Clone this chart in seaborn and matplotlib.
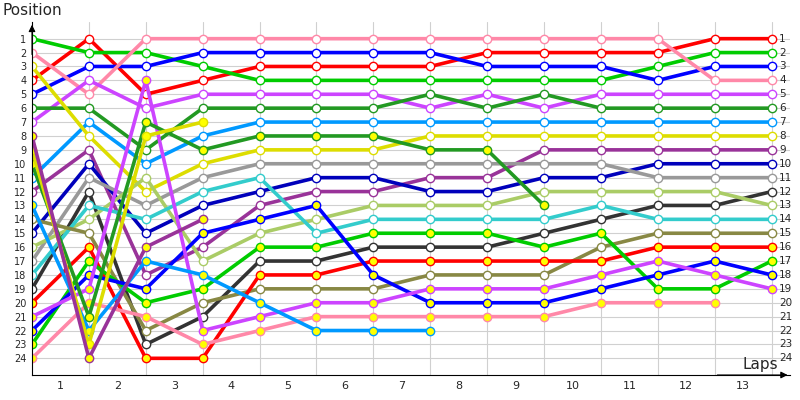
import pandas as pd
import seaborn as sns
import matplotlib
matplotlib.use("Agg")
import matplotlib.pyplot as plt

# --- Data: position per lap (index 0 = start), shorter lists = retired ---
drivers = ["A", "B", "C", "D", "E", "F", "G", "H", "I", "J", "K", "L",
           "M", "N", "O", "P", "Q", "R", "S", "T", "U", "V", "W", "X"]
positions = [
    [4, 1, 5, 4, 3, 3, 3, 3, 2, 2, 2, 2, 1, 1],
    [1, 2, 2, 3, 4, 4, 4, 4, 4, 4, 4, 3, 2, 2],
    [5, 3, 3, 2, 2, 2, 2, 2, 3, 3, 3, 4, 3, 3],
    [2, 5, 1, 1, 1, 1, 1, 1, 1, 1, 1, 1, 4, 4],
    [7, 4, 6, 5, 5, 5, 5, 6, 5, 6, 5, 5, 5, 5],
    [6, 6, 9, 6, 6, 6, 6, 5, 6, 5, 6, 6, 6, 6],
    [11, 7, 10, 8, 7, 7, 7, 7, 7, 7, 7, 7, 7, 7],
    [3, 8, 12, 10, 9, 9, 9, 8, 8, 8, 8, 8, 8, 8],
    [12, 9, 18, 16, 13, 12, 12, 11, 11, 9, 9, 9, 9, 9],
    [15, 10, 15, 13, 12, 11, 11, 12, 12, 11, 11, 10, 10, 10],
    [17, 11, 13, 11, 10, 10, 10, 10, 10, 10, 10, 11, 11, 11],
    [19, 12, 23, 21, 17, 17, 16, 16, 16, 15, 14, 13, 13, 12],
    [16, 14, 11, 17, 15, 14, 13, 13, 13, 12, 12, 12, 12, 13],
    [18, 13, 14, 12, 11, 15, 14, 14, 14, 14, 13, 14, 14, 14],
    [14, 15, 22, 20, 19, 19, 19, 18, 18, 18, 16, 15, 15, 15],
    [20, 16, 24, 24, 18, 18, 17, 17, 17, 17, 17, 16, 16, 16],
    [23, 17, 20, 19, 16, 16, 15, 15, 15, 16, 15, 19, 19, 17],
    [22, 18, 19, 15, 14, 13, 18, 20, 20, 20, 19, 18, 17, 18],
    [21, 19, 4, 22, 21, 20, 20, 19, 19, 19, 18, 17, 18, 19],
    [24, 20, 21, 23, 22, 21, 21, 21, 21, 21, 20, 20, 20],
    [13, 22, 17, 18, 20, 22, 22, 22],
    [10, 21, 7, 9, 8, 8, 8, 9, 9, 13],
    [9, 23, 8, 7],
    [8, 24, 16, 14],
]
line_colors = ["#ff0000", "#00cc00", "#0000ff", "#ff88a8", "#cc44ff", "#229922",
               "#0099ff", "#dddd00", "#993399", "#0000bb", "#999999", "#333333",
               "#aacc66", "#33cccc", "#888844", "#ff0000", "#00cc00", "#0000ff",
               "#cc44ff", "#ff88a8", "#0099ff", "#229922", "#dddd00", "#993399"]
yellow_markers = ["P", "Q", "R", "S", "T", "U", "V", "W", "X"]
lap_labels = [str(i) for i in range(1, 14)]

rows = []
for d, pos in zip(drivers, positions):
    for lap, p in enumerate(pos):
        rows.append([d, lap, p])
df = pd.DataFrame(rows, columns=["driver", "lap", "pos"])

sns.set_style("white")
fig = plt.figure(figsize=(8, 4), dpi=100)
ax = fig.add_axes([0.04, 0.0625, 0.948, 0.8825])

for d, c in zip(drivers, line_colors):
    sub = df[df["driver"] == d]
    face = "#ffff00" if d in yellow_markers else "white"
    sns.lineplot(data=sub, x="lap", y="pos", ax=ax, color=c, linewidth=2.6,
                 marker="o", markersize=6, markerfacecolor=face,
                 markeredgecolor=c, markeredgewidth=1.0, sort=False,
                 estimator=None, legend=False)

ax.set_xlim(0, 13.33)
ax.set_ylim(25.2, -0.2)
ax.set_yticks(range(1, 25))
ax.set_yticklabels([str(i) for i in range(1, 25)], fontsize=7)
ax.set_xticks([i + 0.5 for i in range(13)])
ax.set_xticklabels(lap_labels, fontsize=8)
ax.tick_params(axis="both", length=0, pad=4)
ax.set_xlabel("")
ax.set_ylabel("")

for y in range(1, 25):
    ax.axhline(y, color="#d0d0d0", linewidth=0.8, zorder=0)
    ax.text(13.13, y, str(y), fontsize=7.5, va="center", ha="left")
for x in range(1, 14):
    ax.axvline(x, color="#d0d0d0", linewidth=0.8, zorder=0)

for s in ["top", "right"]:
    ax.spines[s].set_visible(False)
ax.spines["left"].set_color("black")
ax.spines["bottom"].set_color("black")

# axis arrows
ax.annotate("", xy=(0, 1.0), xytext=(0, 0.9), xycoords="axes fraction",
            arrowprops=dict(arrowstyle="-|>", color="black", lw=0.8))
ax.annotate("", xy=(1.0, 0), xytext=(0.9, 0), xycoords="axes fraction",
            arrowprops=dict(arrowstyle="-|>", color="black", lw=0.8))

fig.text(0.003, 0.955, "Position", fontsize=11, ha="left", va="bottom")
fig.text(0.928, 0.07, "Laps", fontsize=11, ha="left", va="bottom")

plt.savefig("out.png", dpi=100)
